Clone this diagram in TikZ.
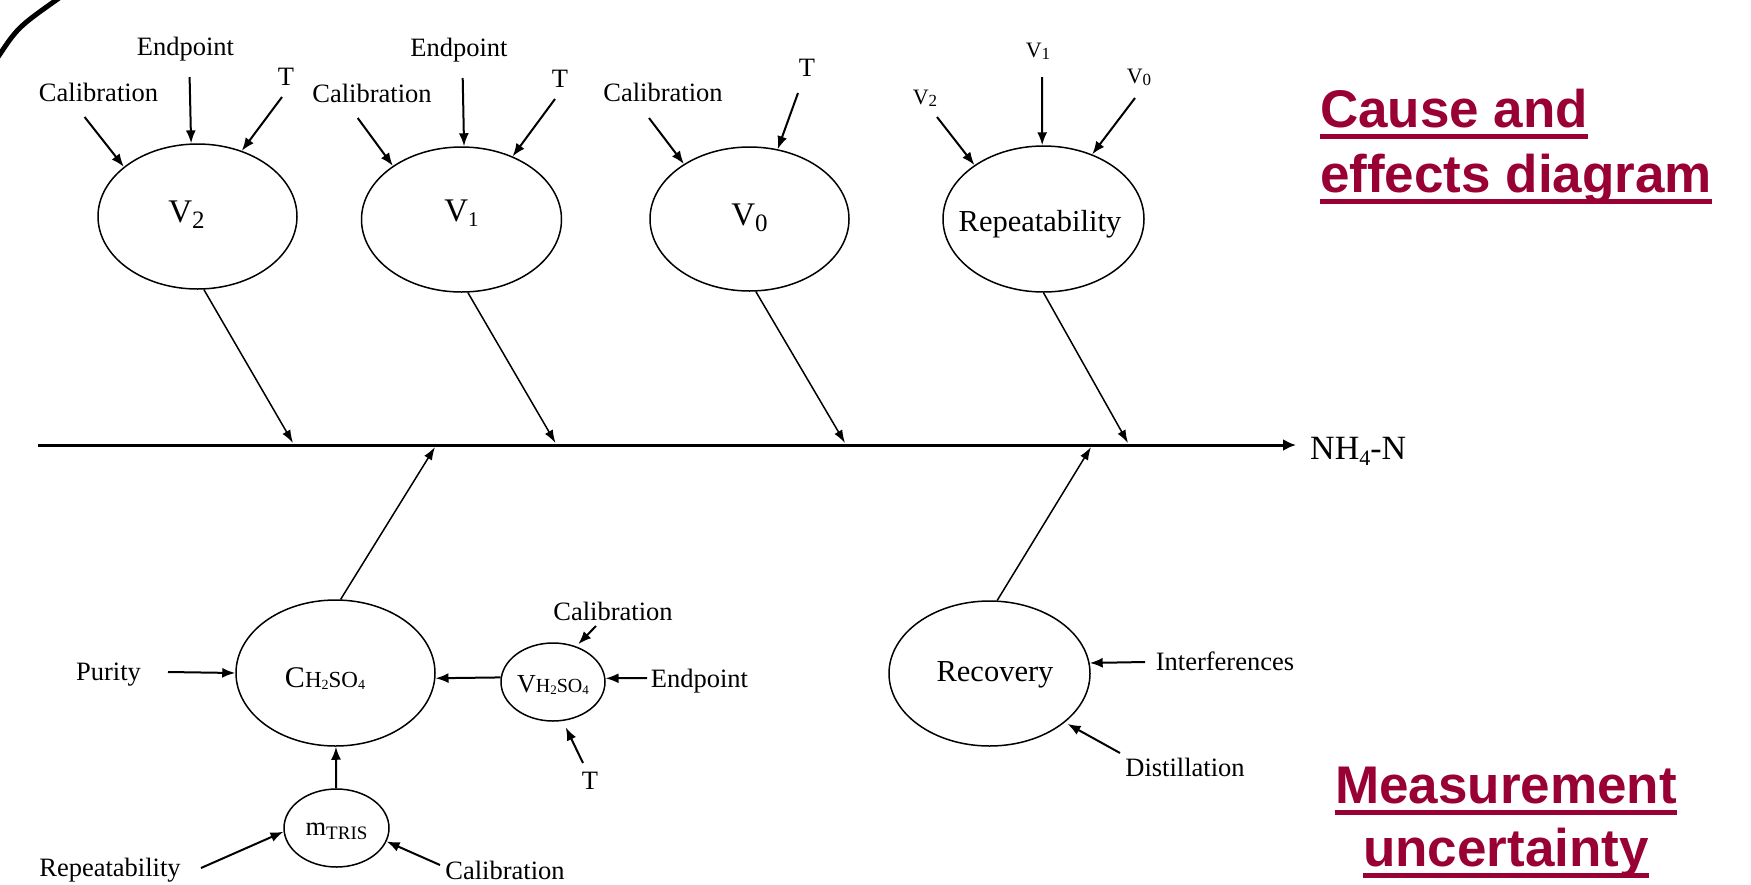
\documentclass[tikz,border=0pt]{standalone}
\usepackage{fontspec}
\setmainfont{Liberation Serif}
\newfontfamily\titlefont{Liberation Sans}
\usetikzlibrary{shapes.geometric,arrows.meta}
\newcommand\fsz[1]{\fontsize{#1}{#1}\selectfont}
\definecolor{crim}{RGB}{153,0,51}
\begin{document}
\begin{tikzpicture}[x=1pt,y=-1pt,
 ell/.style={draw, ellipse, line width=1.5pt, inner sep=0pt, text depth=0pt},
 lbl/.style={inner sep=0pt, anchor=base, font={\fsz{26.5}}},
 vlbl/.style={inner sep=0pt, anchor=base, font={\fsz{22}}},
 arr/.style={line width=2pt, -{Latex[length=13pt,width=10pt]}},
 br/.style={line width=1.5pt, -{Latex[length=13pt,width=9pt]}},
 spine/.style={line width=3pt, -{Latex[length=13pt,width=12pt]}},
 title/.style={inner sep=0pt, text=crim, font={\titlefont\bfseries\fsz{53}}},
 ul/.style={draw=crim, line width=5pt}]
\useasboundingbox (0,0) rectangle (1751,884);
\fill[white] (0,0) rectangle (1751,884);
% corner arc
\draw[line width=5pt] (-2,57) .. controls (18,27) .. (62,-4);

% upper ellipses
\node[ell, minimum width=199pt, minimum height=145pt, text height=11pt] (V2) at (197.5,216.5)
  {\makebox[0pt]{\hspace{-22pt}\fsz{33}V\raisebox{-6pt}{\fsz{25}2}}};
\node[ell, minimum width=200pt, minimum height=145pt, text height=4.4pt] (V1) at (461.5,219.5)
  {\makebox[0pt]{\fsz{33}V\raisebox{-5pt}{\fsz{21}1}}};
\node[ell, minimum width=199pt, minimum height=144pt, text height=12pt] (V0) at (749.5,219)
  {\makebox[0pt]{\fsz{33}V\raisebox{-6pt}{\fsz{25}0}}};
\node[ell, minimum width=201pt, minimum height=146pt, text height=25pt] (Rep) at (1043.5,219)
  {\makebox[0pt]{\hspace{-7pt}\fsz{30.5}Repeatability}};

% lower ellipses
\node[ell, minimum width=199pt, minimum height=146pt, text height=28pt] (CH) at (335.5,673)
  {\makebox[0pt]{\hspace{-21pt}\fsz{30}C\fsz{23}H\raisebox{-2.5pt}{\fsz{14}2}SO\raisebox{-2.5pt}{\fsz{14}4}}};
\node[ell, minimum width=104pt, minimum height=78pt, text height=20pt] (VH) at (553,682)
  {\makebox[0pt]{\fsz{26}V\fsz{20}H\raisebox{-2.5pt}{\fsz{13}2}SO\raisebox{-2.5pt}{\fsz{13}4}}};
\node[ell, minimum width=105pt, minimum height=78pt, text height=14pt] (mT) at (336.5,828)
  {\makebox[0pt]{\fsz{26.5}m\raisebox{-4pt}{\fsz{19}TRIS}}};
\node[ell, minimum width=201pt, minimum height=145pt, text height=16.4pt] (Rec) at (989.5,673.5)
  {\makebox[0pt]{\hspace{11pt}\fsz{30.5}Recovery}};

% labels around V2
\node[lbl] (cal2) at (98.6,101.5) {Calibration};
\node[lbl] (end2) at (185.5,55) {Endpoint};
\node[lbl] (t2) at (286,85) {T};
% labels around V1
\node[lbl] (cal1) at (372,102) {Calibration};
\node[lbl] (end1) at (459,56.5) {Endpoint};
\node[lbl] (t1) at (560,87) {T};
% labels around V0
\node[lbl] (cal0) at (663,101.5) {Calibration};
\node[lbl] (t0) at (807,76) {T};
% labels around Repeatability
\node[vlbl] (rv2) at (925,104) {V\raisebox{-2.5pt}{\fsz{17}2}};
\node[vlbl] (rv1) at (1038,57) {V\raisebox{-2.5pt}{\fsz{17}1}};
\node[vlbl] (rv0) at (1139,83) {V\raisebox{-2.5pt}{\fsz{17}0}};
% lower labels
\node[lbl] (pur) at (108.5,680) {Purity};
\node[lbl] (calh) at (613,620) {Calibration};
\node[lbl] (endh) at (699.5,687) {Endpoint};
\node[lbl] (th) at (590,789) {T};
\node[lbl] (repm) at (110,876) {Repeatability};
\node[lbl] (calm) at (505,879) {Calibration};
\node[lbl] (intf) at (1225,670) {Interferences};
\node[lbl] (dist) at (1185,776) {Distillation};

% effect
\node[inner sep=0pt, anchor=base west, font={\fsz{34}}] (NH) at (1310,459) {NH\raisebox{-6pt}{\fsz{22}4}-N};
\coordinate (sp0) at (38,445);
\draw[spine, shorten >=14pt] (sp0) -- (sp0 -| NH.west);

% arrow tails
\coordinate (a2c) at (84.6,117);
\coordinate (a2e) at (189.6,77);
\coordinate (a2t) at (282,97);
\coordinate (a1c) at (357.7,118);
\coordinate (a1e) at (462.7,78);
\coordinate (a1t) at (555,99);
\coordinate (a0c) at (649,118);
\coordinate (a0t) at (798,93);
\coordinate (ar2) at (937,117);
\coordinate (ar1) at (1042,77);
\coordinate (ar0) at (1135,98);
\coordinate (apur) at (168,672);
\coordinate (ahc) at (596,626);
\coordinate (ahe) at (647,678);
\coordinate (aht) at (583,763);
\coordinate (amr) at (201,868);
\coordinate (amc) at (440,865);
\coordinate (ari) at (1145,662);
\coordinate (ard) at (1120,753);

\draw[arr] (a2c) -- (V2.146);
\draw[arr] (a2e) -- (V2.95);
\draw[arr] (a2t) -- (V2.56);
\draw[arr] (a1c) -- (V1.142);
\draw[arr] (a1e) -- (V1.88);
\draw[arr] (a1t) -- (V1.51);
\draw[arr] (a0c) -- (V0.140);
\draw[arr] (a0t) -- (V0.68);
\draw[arr] (ar2) -- (Rep.142);
\draw[arr] (ar1) -- (Rep.91);
\draw[arr] (ar0) -- (Rep.53);
\draw[arr] (apur) -- (CH.180);
\draw[arr] (VH.175) -- (CH.-3);
\draw[arr] (mT) -- (CH);
\draw[arr, shorten >=3pt] (ahc) -- (VH.57);
\draw[arr] (ahe) -- (VH.4);
\draw[arr, shorten >=7pt] (aht) -- (VH.-76);
\draw[arr] (amr) -- (mT.184);
\draw[arr] (amc) -- (mT.-15);
\draw[arr] (ari) -- (Rec.6.5);
\draw[arr, shorten >=3pt] (ard) -- (Rec.-33);

% branches to spine
\coordinate (s2) at (293,443);
\coordinate (s1) at (555.5,443);
\coordinate (s0) at (845,443);
\coordinate (sr) at (1128,443);
\coordinate (sc) at (435,447);
\coordinate (sv) at (1091,447);
\draw[br] (V2.-85) -- (s2);
\draw[br] (V1.-85) -- (s1);
\draw[br] (V0.-85) -- (s0);
\draw[br] (Rep.-90) -- (sr);
\draw[br] (CH.86) -- (sc);
\draw[br] (Rec.84) -- (sv);

% titles
\node[title, anchor=base west] (c1) at (1320,127) {Cause and};
\node[title, anchor=base west] (c2) at (1320,192) {effects diagram};
\node[title, anchor=base] (m1) at (1506,803) {Measurement};
\node[title, anchor=base] (m2) at (1506,866) {uncertainty};
\draw[ul] ([yshift=-9.5pt]c1.base west) -- ([yshift=-9.5pt]c1.base east);
\draw[ul] ([yshift=-9.5pt]c2.base west) -- ([yshift=-9.5pt]c2.base east);
\draw[ul] ([yshift=-9.5pt]m1.base west) -- ([yshift=-9.5pt]m1.base east);
\draw[ul] ([yshift=-9.5pt]m2.base west) -- ([yshift=-9.5pt]m2.base east);
\end{tikzpicture}
\end{document}
